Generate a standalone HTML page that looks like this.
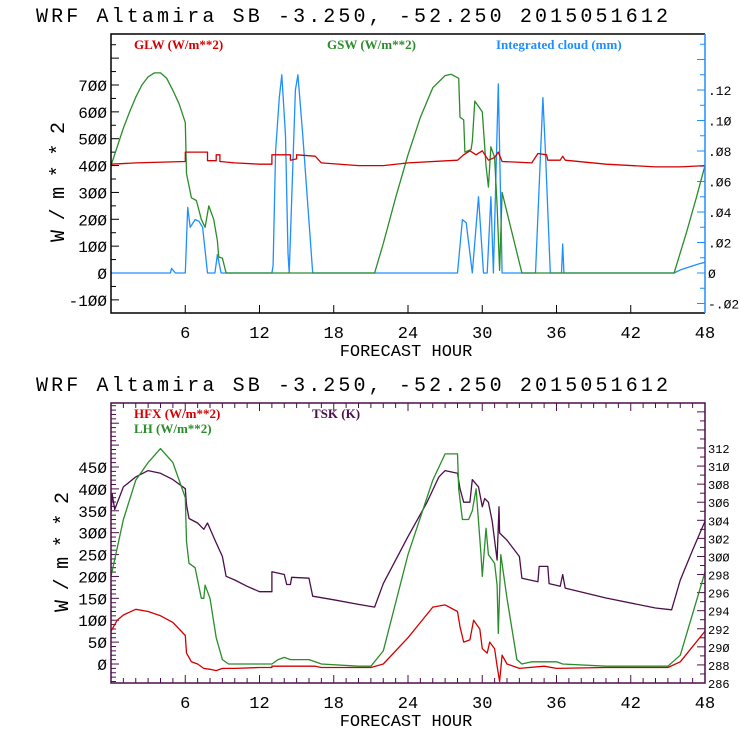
<!DOCTYPE html>
<html><head><meta charset="utf-8"><style>
html,body{margin:0;padding:0;background:#fff;}
svg{display:block;}
text{font-family:"Liberation Mono","DejaVu Sans Mono",monospace;}
.lg{font-family:"Liberation Serif",serif;font-weight:bold;font-size:13px;}
</style></head><body>
<svg id="chart" width="740" height="740" viewBox="0 0 740 740" xmlns="http://www.w3.org/2000/svg">
<rect width="740" height="740" fill="#fff"/>
<text x="36" y="22" font-size="20" textLength="632" lengthAdjust="spacing">WRF  Altamira  SB  -3.250, -52.250  2015051612</text>
<text x="36" y="391" font-size="20" textLength="632" lengthAdjust="spacing">WRF  Altamira  SB  -3.250, -52.250  2015051612</text>
<text class="lg" x="134" y="49" fill="#d40000">GLW (W/m**2)</text>
<text class="lg" x="327" y="49" fill="#2a8c2a">GSW (W/m**2)</text>
<text class="lg" x="496" y="49" fill="#1e8fff">Integrated cloud (mm)</text>
<text class="lg" x="134" y="418" fill="#d40000">HFX (W/m**2)</text>
<text class="lg" x="134" y="433" fill="#2a8c2a">LH  (W/m**2)</text>
<text class="lg" x="312" y="418" fill="#4b0f4b">TSK (K)</text>
<text x="406" y="356" font-size="17" text-anchor="middle">FORECAST HOUR</text>
<text x="406" y="726" font-size="17" text-anchor="middle">FORECAST HOUR</text>
<text transform="translate(64,242) rotate(-90)" font-size="20" textLength="120" lengthAdjust="spacing">W/m**2</text>
<text transform="translate(68,612) rotate(-90)" font-size="20" textLength="120" lengthAdjust="spacing">W/m**2</text>
<g id="g"></g>
</svg>
<script>
// ---- data ----
const xTicks = [6,12,18,24,30,36,42,48];
const topLeftTicks = [-100,0,100,200,300,400,500,600,700];
const topRightTicks = [-0.02,0,0.02,0.04,0.06,0.08,0.10,0.12];
const topRightLabels = ["-.02","0",".02",".04",".06",".08",".10",".12"];
const botLeftTicks = [0,50,100,150,200,250,300,350,400,450];
const botRightTicks = [286,288,290,292,294,296,298,300,302,304,306,308,310,312];

const glwHours = [0,2,6,6,7.8,7.8,8.5,8.5,8.8,8.8,10,12,13,13,14.5,14.5,15,15,16.5,17,20,22,24,28,28.5,29,29.5,30,30.5,31,31.3,31.6,34,34.5,35.2,35.3,36.3,36.5,36.7,40,44,46,48];
const glwVals = [405,410,415,450,450,418,418,440,440,415,410,405,405,440,440,420,425,440,435,410,400,400,410,420,440,455,440,455,420,430,450,415,410,445,440,420,420,435,420,405,395,395,400];

const gswHours = [0,0.5,1,1.5,2,2.5,3,3.5,4,4.5,5,5.5,6,6.1,6.5,6.9,7.3,7.6,7.9,8.3,8.6,8.7,9,9.3,21.3,22,23,24,25,26,27,27.5,28.1,28.2,28.5,28.6,29.1,29.2,29.4,30,30.3,30.5,30.7,31,31.2,31.4,31.6,33.2,45.5,46.5,47.3,48];
const gswVals = [400,470,540,600,655,700,730,745,745,725,680,630,560,370,280,270,200,170,250,200,120,60,55,0,0,110,280,440,580,690,735,740,725,580,570,450,460,490,640,600,400,320,470,430,250,10,300,0,0,150,280,400];

const cldHours = [0,4.8,4.9,5.2,6,6.2,6.4,6.8,7.1,7.4,7.8,8.4,8.6,8.9,13,13.1,13.3,13.6,13.8,14.1,14.3,14.4,14.9,15.1,15.5,16.3,28,28.4,28.7,29.2,29.7,30.1,30.4,30.7,30.9,31.3,31.6,34.3,34.9,35.1,35.5,36.4,36.5,36.6,45.5,46,47.5,48];
const cldVals = [0,0,0.003,0,0,0.043,0.03,0.035,0.034,0.03,0,0,0.012,0,0,0.005,0.08,0.115,0.13,0.09,0.013,0,0.12,0.13,0.09,0,0,0.035,0.033,0,0.05,0,0,0.05,0,0.124,0,0,0.115,0.08,0,0,0.019,0,0,0.002,0.006,0.007];

const hfxHours = [0,0.5,1,2,3,4,5,6,6.1,6.5,7,7.5,8,8.5,9,10,12,13,13,16.5,17,21,22,24,26,27,28,28.2,28.5,29,29.3,29.8,30,30.4,30.6,31,31.2,31.4,31.6,32,33,35,36,40,45,46,48];
const hfxVals = [75,100,112,125,120,110,95,65,25,5,0,-10,-12,-15,-10,-10,-8,-8,-5,-5,-8,-8,0,60,130,135,120,85,50,55,100,80,35,25,50,35,-5,-40,20,0,-10,-5,-10,-8,-8,5,75];

const lhHours = [0,1,2,3,4,5,5.5,6,6.1,6.3,6.8,7.3,7.5,7.6,8,8.5,9,9.5,12,13,13.5,14,14.5,16,17,20,21,22,24,26,27,28,28.1,28.4,28.9,29.2,29.5,29.9,30,30.3,30.5,31,31.2,31.3,31.5,32,32.8,33.2,34,35,36,36.5,40,45,46,48];
const lhVals = [200,330,420,460,492,460,420,380,280,230,220,150,150,180,150,60,10,0,0,0,10,15,10,10,0,-5,-5,30,250,420,480,480,400,330,330,350,400,250,200,310,250,230,180,70,250,150,10,0,5,5,5,0,-5,-5,20,210];

const tskHours = [0,0.1,0.3,1,2,3,4,5,6,6.1,6.3,7,7.5,7.8,8.5,9,9.3,10,11,12,13,13,14,14.2,14.5,14.6,16,16.3,18,20,21.3,22,24,25.5,26.5,27,28,28.2,28.5,29,29.2,29.7,30,30.2,30.5,30.8,31.2,31.35,31.4,32,33,33.2,34.5,34.6,35.3,35.4,36.3,36.5,36.7,40,44,45.3,46,47,48];
const tskVals = [304.8,306.9,305.2,307.7,308.8,309.5,309.2,308.5,307.5,305.7,304.2,303.7,303,303.7,301.5,300,297.8,297.4,296.7,296.1,296.1,298.3,298,296.9,296.9,297.7,297.6,295.6,295.2,294.7,294.4,297,302.2,305.9,308.8,309.5,309.2,307.5,306,306,308.5,307.7,305.5,306.4,306,303.9,299.6,305.5,302.6,301.8,300,297.6,297.2,298.9,298.9,297,296.7,298,296.5,295.4,294.3,294.1,297.4,300.7,303.9];

// ---- axes ----
const NS="http://www.w3.org/2000/svg";
const g=document.getElementById('g');
const X0=111,X1=705;
const xs=h=>X0+(X1-X0)*h/48;
const topL=v=>273-v*(188/700);
const topR=v=>273-v*(183/0.12);
const botL=v=>664-v*(197/450);
const botR=v=>683-(v-286)*(235/26);

function el(tag,attrs,parent){const e=document.createElementNS(NS,tag);for(const k in attrs)e.setAttribute(k,attrs[k]);(parent||g).appendChild(e);return e;}
function tick(x1,y1,x2,y2,c){const t=el('line',{x1,y1,x2,y2,stroke:c,'stroke-width':1});
  
  }
function label(x,y,s,anchor,size){const t=el('text',{x,y,'font-size':size,'text-anchor':anchor});t.textContent=s;
  
  }

const clipT=el('clipPath',{id:'ct'});el('rect',{x:X0,y:34,width:X1-X0,height:279},clipT);
const clipB=el('clipPath',{id:'cb'});el('rect',{x:X0,y:403,width:X1-X0,height:280},clipB);

// top ticks
for(let v=-150;v<=1000;v+=50){const y=topL(v);if(y<34||y>313)continue;tick(X0,y,X0+(v%100===0?8:5),y,'#000');}
topLeftTicks.forEach(v=>label(X0-4,topL(v)+6,String(v).replace(/0/g,'Ø'),'end',16));
for(let k=-3;k<=17;k++){const v=k*0.01;const y=topR(v);if(y<34||y>313)continue;tick(X1,y,X1-(k%2===0?8:5),y,'#1e8fff');}
topRightTicks.forEach((v,i)=>label(X1+3,topR(v)+5,topRightLabels[i].replace(/0/g,'Ø'),'start',13));
xTicks.forEach(h=>{tick(xs(h),313,xs(h),305,'#000');label(xs(h),338,String(h),'middle',17);});
// bottom ticks
for(let v=-40;v<=600;v+=10){const y=botL(v);if(y<403||y>683)continue;tick(X0,y,X0+(v%50===0?8:5),y,'#4b0f4b');}
botLeftTicks.forEach(v=>label(X0-4,botL(v)+6,String(v).replace(/0/g,'Ø'),'end',16));
for(let v=286;v<=317;v++){const y=botR(v);if(y<403||y>683)continue;tick(X1,y,X1-(v%2===0?8:5),y,'#4b0f4b');}
botRightTicks.forEach(v=>label(X1+3,botR(v)+5,String(v).replace(/0/g,'Ø'),'start',12));
for(let h=1;h<48;h++){const L=h%6===0?8:5;tick(xs(h),683,xs(h),683-L,'#4b0f4b');tick(xs(h),403,xs(h),403+L,'#4b0f4b');}
xTicks.forEach(h=>label(xs(h),708,String(h),'middle',17));

// series
const gt=el('g',{'clip-path':'url(#ct)'});
const gb=el('g',{'clip-path':'url(#cb)'});
function pathIn(grp,hours,vals,yf,color,name){
  let d='';
  for(let i=0;i<hours.length;i++){d+=(i?'L':'M')+xs(hours[i]).toFixed(1)+','+yf(vals[i]).toFixed(1);}
  const p=el('path',{d:d,fill:'none',stroke:color,'stroke-width':1.3,'stroke-linejoin':'round'},grp);
  
  
}
pathIn(gt,cldHours,cldVals,topR,'#1e8fff','cloud-line');
pathIn(gt,gswHours,gswVals,topL,'#2a8c2a','gsw-line');
pathIn(gt,glwHours,glwVals,topL,'#d40000','glw-line');
pathIn(gb,tskHours,tskVals,botR,'#4b0f4b','tsk-line');
pathIn(gb,lhHours,lhVals,botL,'#2a8c2a','lh-line');
pathIn(gb,hfxHours,hfxVals,botL,'#d40000','hfx-line');

// frames
const ft=el('path',{d:`M${X1},34L${X0},34L${X0},313L${X1},313`,fill:'none',stroke:'#000','stroke-width':1.5});


const ftr=el('line',{x1:X1,y1:34,x2:X1,y2:313,stroke:'#1e8fff','stroke-width':1.5});


const fb=el('rect',{x:X0,y:403,width:X1-X0,height:280,fill:'none',stroke:'#4b0f4b','stroke-width':1.5});


</script>
</body></html>
